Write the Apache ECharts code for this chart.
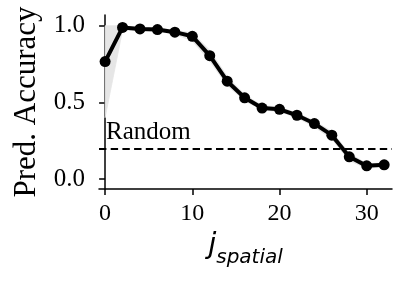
<!DOCTYPE html>
<html>
<head>
<meta charset="utf-8">
<script src="https://cdn.jsdelivr.net/npm/echarts@6/dist/echarts.min.js"></script>
<style>
html,body{margin:0;padding:0;background:#fff;}
#c{width:407px;height:287px;}
</style>
</head>
<body>
<div id="c"></div>
<script>
var jSpatial = [0, 2, 4, 6, 8, 10, 12, 14, 16, 18, 20, 22, 24, 26, 28, 30, 32];
var accuracy = [0.766, 0.989, 0.979, 0.975, 0.958, 0.931, 0.805, 0.638, 0.530, 0.463, 0.455, 0.416, 0.362, 0.286, 0.145, 0.086, 0.093];
var bandLower = [0.40, 0.97, 0.97, 0.965, 0.945, 0.90, 0.77, 0.61, 0.51, 0.45, 0.44, 0.40, 0.34, 0.26, 0.12, 0.07, 0.08];
var bandUpper = [1.00, 1.00, 0.99, 0.985, 0.97, 0.955, 0.84, 0.67, 0.55, 0.48, 0.47, 0.43, 0.38, 0.31, 0.17, 0.10, 0.105];
var xTicks = [0, 10, 20, 30];
var yTicks = [0.0, 0.5, 1.0];
var randomLevel = 0.2;
var randomLabel = 'Random';
var yName = 'Pred. Accuracy';

var chart = echarts.init(document.getElementById('c'), null, {renderer: 'canvas'});
var serif = 'Liberation Serif';
var bandSegs = [];
for (var i = 0; i < jSpatial.length - 1; i++) {
  bandSegs.push([jSpatial[i], bandLower[i], bandUpper[i], jSpatial[i + 1], bandLower[i + 1], bandUpper[i + 1]]);
}
var lineData = jSpatial.map(function (x, i) { return [x, accuracy[i]]; });

chart.setOption({
  animation: false,
  backgroundColor: '#fff',
  grid: {left: 99, right: 15, top: 15, bottom: 98},
  xAxis: {
    type: 'value', min: -0.7, max: 32.9,
    splitLine: {show: false},
    axisLine: {show: true, onZero: false, lineStyle: {color: '#000', width: 1.5}},
    axisTick: {show: true, length: 6, lineStyle: {color: '#000', width: 1.5}, customValues: xTicks},
    axisLabel: {customValues: xTicks, margin: 13, fontFamily: serif, fontSize: 24, color: '#000'},
    name: '{j|j}{s|spatial}',
    nameLocation: 'middle',
    nameGap: 38,
    nameTextStyle: {
      rich: {
        j: {fontFamily: 'DejaVu Sans', fontStyle: 'italic', fontSize: 29, color: '#000', verticalAlign: 'bottom', padding: [0, 0, 8, 0]},
        s: {fontFamily: 'DejaVu Sans', fontStyle: 'italic', fontSize: 20, color: '#000', verticalAlign: 'bottom'}
      }
    }
  },
  yAxis: {
    type: 'value', min: -0.065, max: 1.07,
    splitLine: {show: false},
    axisLine: {show: true, lineStyle: {color: '#000', width: 1.5}},
    axisTick: {show: true, length: 6, lineStyle: {color: '#000', width: 1.5}, customValues: yTicks},
    axisLabel: {customValues: yTicks, margin: 14, fontFamily: serif, fontSize: 25, color: '#000',
      formatter: function (v) { return v.toFixed(1); }},
    name: yName,
    nameLocation: 'middle',
    nameGap: 55,
    nameTextStyle: {fontFamily: serif, fontSize: 31, color: '#000'}
  },
  series: [
    {
      type: 'custom', data: bandSegs, silent: true, z: 1,
      renderItem: function (params, api) {
        var a = api.coord([api.value(0), api.value(2)]);
        var b = api.coord([api.value(3), api.value(5)]);
        var c = api.coord([api.value(3), api.value(4)]);
        var d = api.coord([api.value(0), api.value(1)]);
        return {
          type: 'polygon',
          shape: {points: [a, b, c, d]},
          style: {fill: '#e6e6e6', stroke: '#e6e6e6', lineWidth: 0.8}
        };
      }
    },
    {
      type: 'line', data: lineData, symbol: 'circle', symbolSize: 11,
      lineStyle: {color: '#000', width: 4}, itemStyle: {color: '#000'}, z: 3,
      markLine: {
        silent: true, symbol: 'none',
        lineStyle: {color: '#000', width: 1.8, type: [7.4, 4.3]},
        label: {show: true, position: 'insideStartTop', formatter: randomLabel,
          fontFamily: serif, fontSize: 25, color: '#000', distance: [7, 3]},
        data: [{yAxis: randomLevel}]
      }
    }
  ]
});
</script>
</body>
</html>
